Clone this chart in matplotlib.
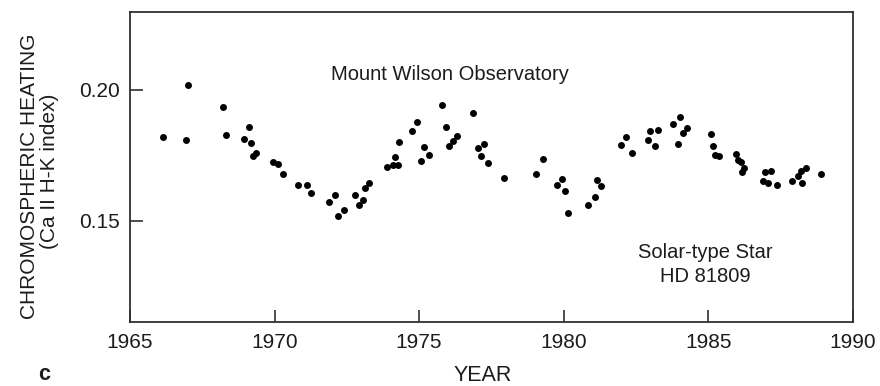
import matplotlib
matplotlib.use('Agg')
import matplotlib.pyplot as plt

plt.rcParams['font.family'] = ['Liberation Sans', 'DejaVu Sans']

ink = '#1c1c1c'
fs = 15

# Ca II H-K index, Mount Wilson, HD 81809
year = [1966.15, 1966.94, 1967.02, 1968.23, 1968.32, 1968.94, 1969.10, 1969.17,
        1969.24, 1969.36, 1969.93, 1970.13, 1970.29, 1970.80, 1971.11, 1971.25,
        1971.89, 1972.10, 1972.19, 1972.40, 1972.79, 1972.93, 1973.07, 1973.13,
        1973.28, 1973.88, 1974.11, 1974.15, 1974.28, 1974.31, 1974.77, 1974.93,
        1975.05, 1975.18, 1975.33, 1975.79, 1975.93, 1976.04, 1976.18, 1976.30,
        1976.87, 1977.04, 1977.13, 1977.24, 1977.39, 1977.93, 1979.06, 1979.29,
        1979.77, 1979.95, 1980.06, 1980.15, 1980.85, 1981.08, 1981.16, 1981.30,
        1981.97, 1982.17, 1982.35, 1982.92, 1982.98, 1983.15, 1983.27, 1983.79,
        1983.94, 1984.02, 1984.13, 1984.28, 1985.09, 1985.17, 1985.23, 1985.37,
        1985.95, 1986.03, 1986.15, 1986.18, 1986.24, 1986.88, 1986.96, 1987.07,
        1987.19, 1987.39, 1987.91, 1988.11, 1988.22, 1988.26, 1988.37, 1988.92]

hk_index = [0.1820, 0.1810, 0.2020, 0.1935, 0.1827, 0.1813, 0.1858, 0.1795,
            0.1746, 0.1758, 0.1725, 0.1716, 0.1678, 0.1636, 0.1637, 0.1604,
            0.1571, 0.1597, 0.1516, 0.1542, 0.1597, 0.1561, 0.1578, 0.1623,
            0.1642, 0.1705, 0.1711, 0.1744, 0.1711, 0.1799, 0.1844, 0.1879,
            0.1728, 0.1782, 0.1752, 0.1943, 0.1858, 0.1784, 0.1803, 0.1822,
            0.1911, 0.1779, 0.1746, 0.1794, 0.1721, 0.1663, 0.1679, 0.1737,
            0.1635, 0.1660, 0.1615, 0.1528, 0.1558, 0.1589, 0.1654, 0.1631,
            0.1790, 0.1818, 0.1758, 0.1809, 0.1841, 0.1784, 0.1847, 0.1870,
            0.1794, 0.1898, 0.1835, 0.1854, 0.1832, 0.1784, 0.1752, 0.1748,
            0.1756, 0.1733, 0.1726, 0.1684, 0.1701, 0.1650, 0.1684, 0.1644,
            0.1688, 0.1637, 0.1650, 0.1669, 0.1688, 0.1644, 0.1701, 0.1678]

xticks = [1965, 1970, 1975, 1980, 1985, 1990]
yticks = [0.15, 0.20]

fig = plt.figure(figsize=(8.8, 3.86), dpi=100)
ax = fig.add_axes([0.1477, 0.165, 0.8213, 0.804])

ax.scatter(year, hk_index, s=25, c='black', linewidths=0, zorder=3)

ax.set_xlim(1965, 1990)
ax.set_ylim(0.1111, 0.2298)
ax.set_xticks(xticks)
ax.set_yticks(yticks)
ax.set_yticklabels(['0.15', '0.20'])

for s in ax.spines.values():
    s.set_color('#303030')
    s.set_linewidth(1.3)

ax.tick_params(axis='both', direction='in', length=9, width=1.2, color='#303030',
               labelsize=fs, labelcolor=ink)
ax.tick_params(axis='x', pad=8)
ax.tick_params(axis='y', pad=7)

ax.text(1976.07, 0.2057, 'Mount Wilson Observatory', size=14.5, color=ink,
        ha='center', va='center')
ax.text(1984.9, 0.1378, 'Solar-type Star', size=14.5, color=ink,
        ha='center', va='center')
ax.text(1984.9, 0.1286, 'HD 81809', size=14.5, color=ink,
        ha='center', va='center')

# two-line y label, anchored on the baseline so the lines sit close together
fig.text(35 / 880, 1 - 176 / 386, 'CHROMOSPHERIC HEATING', rotation=90, size=15,
         color=ink, ha='center', va='baseline', rotation_mode='anchor')
fig.text(55 / 880, 1 - 171 / 386, '(Ca II H-K index)', rotation=90, size=15,
         color=ink, ha='center', va='baseline', rotation_mode='anchor')
fig.text(0.549, 0.026, 'YEAR', size=15.5, color=ink, ha='center', va='center')
fig.text(0.05, 0.031, 'c', size=15.5, color=ink, ha='center', va='center',
         weight='bold')

fig.savefig('out.png', dpi=100)
